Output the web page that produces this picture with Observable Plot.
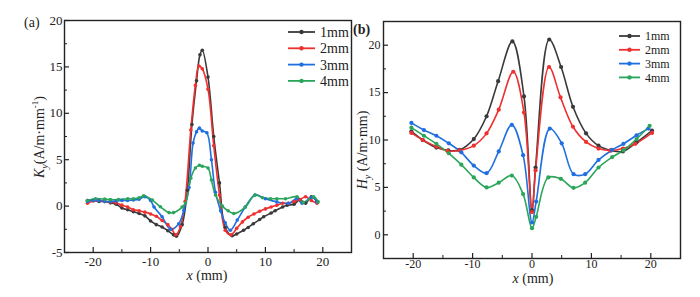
<!DOCTYPE html>
<html><head><meta charset="utf-8">
<script src="https://cdn.jsdelivr.net/npm/d3@7"></script>
<script src="https://cdn.jsdelivr.net/npm/@observablehq/plot@0.6"></script>
<style>
body{margin:0;background:#fff;width:700px;height:297px;overflow:hidden;position:relative;font-family:'Liberation Serif',serif;}
.pane{position:absolute;top:0;}
#pa{left:0px}#pb{left:340px}
svg{overflow:visible}
svg text{font-family:'Liberation Serif',serif;}
</style></head><body><div id="pa" class="pane"></div><div id="pb" class="pane"></div>
<script>
const seriesNames = ["1mm","2mm","3mm","4mm"];
const seriesColors = ["#3a3a3a","#ee3030","#1f6fe0","#2aa55a"];

// Panel (a): K_y vs x
const a1x = [-21,-20,-19,-18,-17,-16,-15,-14,-13,-12,-11,-10,-9,-8,-7,-6,-5.5,-4.5,-3.6,-2.8,-2,-1.4,-1,0,1,2,3,4.2,5,6.2,7,7.9,9,9.7,11,11.7,13,13.8,15,16,17,18,19];
const a1y = [0.6,0.6,0.5,0.5,0.35,0.2,-0.2,-0.4,-0.6,-0.8,-1.05,-1.6,-2.0,-2.25,-2.65,-3.1,-3.25,-2.0,1.7,8.8,13.5,16.3,16.8,13.9,7.5,2.5,-2.3,-3.2,-3.0,-2.6,-2.3,-1.9,-1.45,-1.15,-0.75,-0.5,-0.1,0.1,0.2,0.7,0.3,1.0,0.5];
const a2x = [-21,-20,-19,-18,-17,-16,-15,-14,-13,-12,-11,-10,-9,-8,-7,-6.3,-5.6,-4.8,-4,-3,-2.2,-1.6,-1,0,1,2,3,4,5,6,7,8,9,10,11,12,13,14,15,16,17,18,19];
const a2y = [0.3,0.55,0.6,0.5,0.45,0.35,0.1,-0.1,-0.4,-0.5,-0.65,-0.85,-1.1,-1.55,-2.0,-2.5,-3.1,-2.2,0.5,8.2,13.0,15.1,14.8,12.6,6.5,1.2,-2.6,-3.1,-2.4,-1.7,-1.2,-0.85,-0.55,-0.3,-0.1,0.1,0.3,0.3,0.5,0.7,1.0,0.6,0.3];
const a3x = [-21,-20,-19,-18,-17,-16,-15,-14,-13,-12,-11,-10,-9.4,-8,-6.5,-5.1,-4.2,-3.3,-2.6,-2,-1.5,-1,-0.2,0.6,1.3,2.2,3,3.9,5.1,6.5,8.2,10,12,14,15.5,16.4,18.1,19];
const a3y = [0.5,0.6,0.6,0.5,0.5,0.55,0.6,0.6,0.65,0.75,1.0,0.6,-0.1,-1.15,-2.5,-1.9,-0.45,2.0,6.8,8.0,8.4,8.1,7.9,5.0,1.5,-0.5,-1.8,-2.6,-1.5,-0.1,1.2,0.8,0.45,0.3,0.8,0.3,0.95,0.45];
const a4x = [-21,-19.6,-18,-17,-15.6,-14,-13,-12,-11.2,-9.7,-8.3,-6.8,-6,-4.5,-3.9,-3,-2.2,-1.5,-1,0,0.6,1.3,2.5,3.5,4.5,6.5,8.2,9.5,10.9,12,13.5,15.5,16.6,18.4,19.2];
const a4y = [0.6,0.8,0.75,0.7,0.7,0.8,0.8,0.9,1.1,0.65,-0.07,-0.7,-0.7,-0.1,0.35,3.0,4.1,4.4,4.3,4.1,2.8,1.2,0.0,-0.5,-0.8,-0.1,1.2,0.9,0.8,0.8,0.8,1.0,0.4,1.0,0.45];

// Panel (b): H_y vs x
const b1x = [-20.3,-18.4,-16.1,-14.1,-12.2,-9.8,-7.65,-5.7,-3.3,-1.35,0,0.6,2.9,4.9,6.9,9.1,11.2,13.3,15.3,17.6,20.2];
const b1y = [10.9,10.0,9.2,8.9,8.95,10.1,12.5,16.2,20.4,14.6,2.6,7.1,20.6,17.7,13.5,10.7,9.4,8.9,8.8,9.75,11.0];
const b2x = [-20.3,-18.4,-16.1,-14.2,-12.2,-9.8,-7.65,-5.6,-3.15,-1.35,0,0.6,2.87,4.8,6.9,9.1,11.2,13.2,15.3,17.4,20.2];
const b2y = [10.75,10.0,9.3,8.85,8.9,9.4,10.7,13.2,17.2,12.9,2.4,6.8,17.7,14.5,11.4,9.8,9.1,8.9,9.1,9.6,10.75];
const b3x = [-20.3,-18.2,-16.1,-14,-11.9,-9.8,-7.65,-5.6,-3.4,-1.5,0,0.7,3.0,5.0,7.0,8.95,11.2,13.5,15.4,17.6,19.6];
const b3y = [11.8,11.05,10.45,9.65,8.7,7.3,6.5,8.8,11.6,8.4,1.3,3.5,11.2,9.65,6.4,6.4,7.9,8.95,9.6,10.5,11.2];
const b4x = [-20.3,-18.2,-16.1,-14,-11.9,-9.8,-7.65,-5.6,-3.4,-1.5,0,0.7,2.75,4.85,7.0,8.95,11.2,13.5,15.4,17.6,19.8];
const b4y = [11.3,10.45,9.6,8.6,7.4,6.05,5.0,5.5,6.25,4.3,0.7,1.9,6.05,5.9,4.95,5.5,7.1,8.2,8.9,10.1,11.5];

const xMajor = [-20,-10,0,10,20];
const xMinor = [-15,-5,5,15];
const aYMajor = [-5,0,5,10,15,20];
const aYMinor = [-2.5,2.5,7.5,12.5,17.5];
const bYMajor = [0,5,10,15,20];
const bYMinor = [-2.5,2.5,7.5,12.5,17.5,22.5];

function rows(xsList, ysList) {
  const out = [];
  xsList.forEach((xs, i) => xs.forEach((x, j) => out.push({x, y: ysList[i][j], s: seriesNames[i]})));
  return out;
}
const dataA = rows([a1x,a2x,a3x,a4x],[a1y,a2y,a3y,a4y]);
const dataB = rows([b1x,b2x,b3x,b4x],[b1y,b2y,b3y,b4y]);

const FONT = "'Liberation Serif', serif";

function panel(cfg) {
  const fw = cfg.width - cfg.ml - cfg.mr;
  const fh = cfg.height - cfg.mt - cfg.mb;
  const ink = "#222";
  return Plot.plot({
    width: cfg.width, height: cfg.height,
    marginLeft: cfg.ml, marginRight: cfg.mr, marginTop: cfg.mt, marginBottom: cfg.mb,
    style: {fontFamily: FONT, background: "transparent", overflow: "visible", color: ink},
    x: {domain: [-25, 25], label: null},
    y: {domain: cfg.yDomain, label: null},
    color: {domain: seriesNames, range: seriesColors},
    marks: [
      Plot.frame({stroke: ink, strokeWidth: 1.4}),
      Plot.tickY(cfg.yMajor, {y: d => d, stroke: ink, strokeWidth: 1.2, insetRight: fw - 5}),
      Plot.tickY(cfg.yMinor, {y: d => d, stroke: ink, strokeWidth: 1, insetRight: fw - 3}),
      Plot.tickX(xMajor, {x: d => d, stroke: ink, strokeWidth: 1.2, insetTop: fh - 5}),
      Plot.tickX(xMinor, {x: d => d, stroke: ink, strokeWidth: 1, insetTop: fh - 3}),
      Plot.axisY({ticks: cfg.yMajor, tickSize: 0, tickPadding: cfg.yPad, tickFormat: d => String(d), fontSize: cfg.tickFont, fontFamily: FONT, label: null}),
      Plot.axisX({ticks: xMajor, tickSize: 0, tickPadding: cfg.xPad, tickFormat: d => String(d), fontSize: cfg.tickFont, fontFamily: FONT, label: null}),
      Plot.line(cfg.data, {x: "x", y: "y", stroke: "s", z: "s", curve: "catmull-rom", strokeWidth: 1.6}),
      Plot.dot(cfg.data, {x: "x", y: "y", fill: "s", r: cfg.r, stroke: null})
    ]
  });
}

function addText(svg, o) {
  const t = d3.select(svg).append("text")
    .attr("font-family", FONT).attr("font-size", o.size || 14).attr("fill", "#222")
    .attr("text-anchor", o.anchor || "start");
  if (o.rotate) t.attr("transform", `translate(${o.x},${o.y}) rotate(-90)`);
  else t.attr("x", o.x).attr("y", o.y);
  if (o.bold) t.attr("font-weight", "bold");
  o.parts.forEach(p => {
    const s = t.append("tspan").text(p.t);
    if (p.i) s.attr("font-style", "italic");
    if (p.dy) s.attr("dy", p.dy);
    if (p.fs) s.attr("font-size", p.fs);
  });
  return t;
}

function addLegend(svg, o) {
  const g = d3.select(svg).append("g");
  seriesNames.forEach((name, i) => {
    const y = o.y0 + o.step * i;
    g.append("line").attr("x1", o.x1).attr("x2", o.x2).attr("y1", y).attr("y2", y)
      .attr("stroke", seriesColors[i]).attr("stroke-width", 1.8);
    g.append("circle").attr("cx", (o.x1 + o.x2) / 2).attr("cy", y).attr("r", 2.2).attr("fill", seriesColors[i]);
    g.append("text").attr("x", o.tx).attr("y", y).attr("dy", "0.35em").attr("text-anchor", "start")
      .attr("font-family", FONT).attr("font-size", o.size).attr("fill", "#222").text(name);
  });
}

// Panel (a)
const svgA = panel({width: 352, height: 297, ml: 64, mr: 1, mt: 20, mb: 45,
  yDomain: [-5, 20], yMajor: aYMajor, yMinor: aYMinor, data: dataA,
  yPad: 2, xPad: 4, tickFont: 13, r: 1.8});
document.getElementById("pa").appendChild(svgA);
addText(svgA, {x: 24, y: 27, size: 14, parts: [{t: "(a)"}]});
addText(svgA, {x: 207, y: 280, size: 14, anchor: "middle", parts: [{t: "x", i: true}, {t: " (mm)"}]});
addText(svgA, {x: 44, y: 137, size: 14, anchor: "middle", rotate: true,
  parts: [{t: "K", i: true}, {t: "y", i: true, fs: 10, dy: 4}, {t: "(A/m·mm", dy: -4}, {t: "-1", fs: 9, dy: -6}, {t: ")", dy: 6}]});
addLegend(svgA, {x1: 288, x2: 315, tx: 320, y0: 32, step: 16.3, size: 14});

// Panel (b)
const svgB = panel({width: 360, height: 297, ml: 43, mr: 20, mt: 21, mb: 39,
  yDomain: [-2.5, 22.5], yMajor: bYMajor, yMinor: bYMinor, data: dataB,
  yPad: 3, xPad: 1, tickFont: 12, r: 2.1});
document.getElementById("pb").appendChild(svgB);
addText(svgB, {x: 13, y: 34, size: 14, bold: true, parts: [{t: "(b)"}]});
addText(svgB, {x: 193, y: 283, size: 14, anchor: "middle", parts: [{t: "x", i: true}, {t: " (mm)"}]});
addText(svgB, {x: 27, y: 150, size: 14, anchor: "middle", rotate: true,
  parts: [{t: "H", i: true}, {t: "y", i: true, fs: 10, dy: 4}, {t: " (A/m·mm)", dy: -4}]});
addLegend(svgB, {x1: 279, x2: 300, tx: 305, y0: 36, step: 13.8, size: 12});
</script>
</body></html>
